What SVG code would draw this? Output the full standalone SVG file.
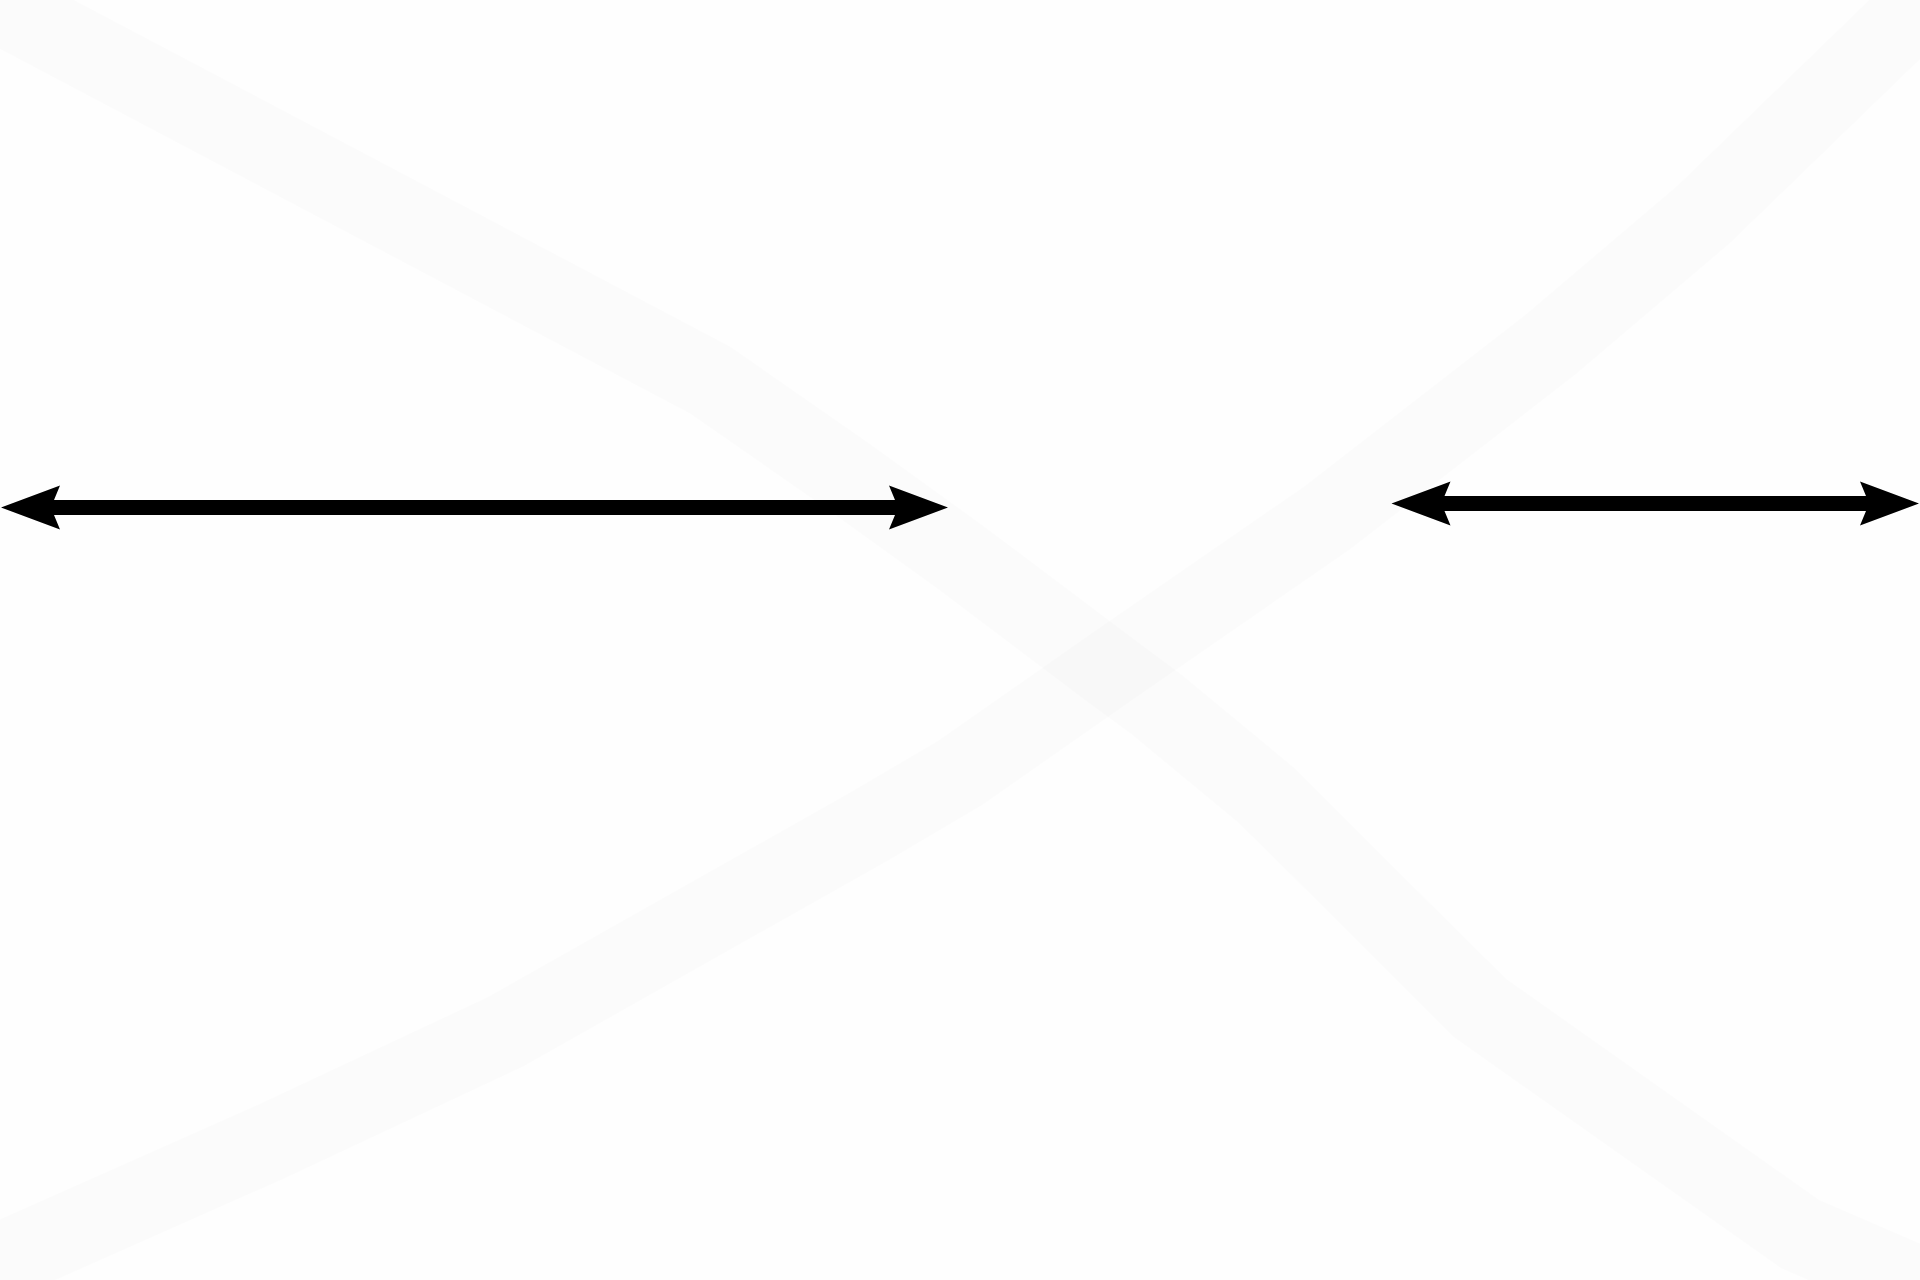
<svg xmlns="http://www.w3.org/2000/svg" width="1920" height="1280" viewBox="0 0 1920 1280">
  <style>
    .band { fill: none; stroke: #000000; stroke-opacity: 0.012; stroke-width: 78; stroke-linejoin: round; }
    .arrow { fill: none; stroke: #000000; stroke-width: 15; stroke-linecap: butt; marker-start: url(#head); marker-end: url(#head); }
  </style>
  <defs>
    <marker id="head" markerUnits="userSpaceOnUse" orient="auto-start-reverse" viewBox="-10 -25 65 50" refX="0" refY="0" markerWidth="65" markerHeight="50" overflow="visible">
      <path d="M52,0 L-7,-22 L-1,-7.5 L-1,7.5 L-7,22 Z" fill="#000000"/>
    </marker>
  </defs>
  <rect x="0" y="0" width="1920" height="1280" fill="#fefefe"/>
  <g id="bands">
    <polyline id="band-1" class="band" points="-40,-16 0,5 710,380 845,474 960,557 1110,670 1156,704 1266,795 1480,1008 1800,1234 1920,1286 1960,1304"/>
    <polyline id="band-2" class="band" points="-40,1280 0,1262 268,1143 505,1032 870,826 960,773 1110,668 1327,518 1550,345 1703,215 1920,5 1960,-33"/>
  </g>
  <g id="connectors">
    <line id="arrow-left" class="arrow" x1="53" y1="507.5" x2="896" y2="507.5"/>
    <line id="arrow-right" class="arrow" x1="1443.5" y1="503.5" x2="1867" y2="503.5"/>
  </g>
</svg>
